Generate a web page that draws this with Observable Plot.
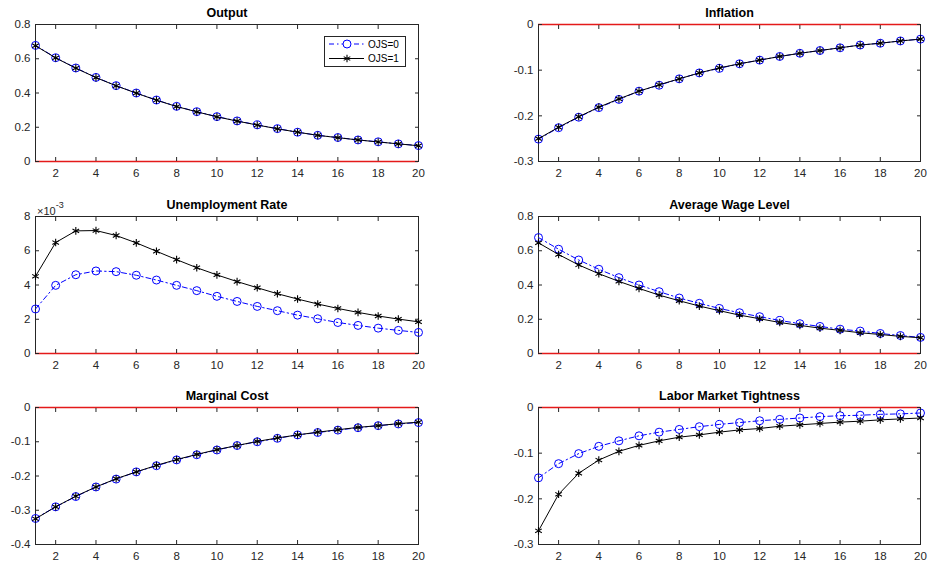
<!DOCTYPE html>
<html><head><meta charset="utf-8">
<script src="https://cdn.jsdelivr.net/npm/d3@7"></script>
<script src="https://cdn.jsdelivr.net/npm/@observablehq/plot@0.6"></script>
<style>
body{margin:0;background:#fff;}
#root{position:relative;width:930px;height:567px;overflow:hidden;background:#fff;font-family:"Liberation Sans",Arial,Helvetica,sans-serif;}
.panel{position:absolute;}
.panel svg{overflow:visible;}
#expo{position:absolute;left:37px;top:202px;font-size:11px;color:#262626;font-family:"Liberation Sans",Arial,sans-serif;}
#expo sup{font-size:9px;position:relative;top:-2px;}
#legend{position:absolute;left:324px;top:36px;}
</style></head><body><div id="root"><div id="expo">×10<sup>-3</sup></div></div>
<script>
// Horizon (periods)
const periods = [1,2,3,4,5,6,7,8,9,10,11,12,13,14,15,16,17,18,19,20];
const xTicks = [2,4,6,8,10,12,14,16,18,20];
const seriesNames = ["OJS=0", "OJS=1"];

// Output
const outputOJS0 = [0.678,0.606,0.546,0.491,0.443,0.400,0.359,0.322,0.291,0.262,0.237,0.214,0.192,0.171,0.153,0.140,0.126,0.115,0.103,0.093];
const outputOJS1 = [0.676,0.605,0.545,0.490,0.442,0.399,0.358,0.321,0.290,0.261,0.236,0.213,0.191,0.171,0.153,0.139,0.126,0.114,0.103,0.092];
const outputTicks = [0,0.2,0.4,0.6,0.8];

// Inflation
const inflationOJS0 = [-0.251,-0.226,-0.203,-0.182,-0.164,-0.146,-0.133,-0.119,-0.106,-0.096,-0.086,-0.078,-0.070,-0.063,-0.057,-0.051,-0.045,-0.041,-0.036,-0.032];
const inflationOJS1 = [-0.250,-0.225,-0.202,-0.181,-0.163,-0.146,-0.132,-0.119,-0.106,-0.095,-0.086,-0.078,-0.070,-0.063,-0.057,-0.051,-0.045,-0.041,-0.036,-0.032];
const inflationTicks = [-0.3,-0.2,-0.1,0];

// Unemployment rate (in units of 10^-3)
const unempOJS0 = [2.60,3.98,4.60,4.82,4.78,4.57,4.29,3.98,3.67,3.34,3.04,2.75,2.50,2.24,2.03,1.81,1.64,1.48,1.35,1.23];
const unempOJS1 = [4.51,6.48,7.16,7.18,6.89,6.46,5.97,5.48,5.01,4.59,4.20,3.84,3.49,3.18,2.89,2.63,2.40,2.19,2.01,1.85];
const unempTicks = [0,2,4,6,8];

// Average wage level
const wageOJS0 = [0.677,0.609,0.546,0.492,0.443,0.400,0.361,0.324,0.293,0.263,0.238,0.215,0.193,0.174,0.158,0.142,0.131,0.117,0.105,0.094];
const wageOJS1 = [0.646,0.578,0.517,0.466,0.421,0.380,0.341,0.308,0.277,0.250,0.224,0.203,0.181,0.164,0.148,0.135,0.121,0.111,0.100,0.092];
const wageTicks = [0,0.2,0.4,0.6,0.8];

// Marginal cost
const mcOJS0 = [-0.324,-0.290,-0.260,-0.232,-0.209,-0.188,-0.170,-0.153,-0.138,-0.124,-0.111,-0.100,-0.090,-0.080,-0.073,-0.066,-0.059,-0.053,-0.048,-0.044];
const mcOJS1 = [-0.325,-0.290,-0.259,-0.232,-0.208,-0.188,-0.169,-0.152,-0.137,-0.123,-0.111,-0.099,-0.089,-0.080,-0.072,-0.065,-0.058,-0.053,-0.047,-0.043];
const mcTicks = [-0.4,-0.3,-0.2,-0.1,0];

// Labor market tightness
const lmtOJS0 = [-0.154,-0.123,-0.101,-0.085,-0.073,-0.062,-0.054,-0.048,-0.042,-0.037,-0.033,-0.029,-0.026,-0.023,-0.020,-0.018,-0.017,-0.015,-0.014,-0.012];
const lmtOJS1 = [-0.270,-0.190,-0.144,-0.115,-0.096,-0.083,-0.073,-0.065,-0.060,-0.054,-0.049,-0.046,-0.041,-0.038,-0.035,-0.032,-0.030,-0.027,-0.025,-0.023];
const lmtTicks = [-0.3,-0.2,-0.1,0];

const panels = [
  {title:"Output", s0:outputOJS0, s1:outputOJS1, domain:[0,0.8], ticks:outputTicks, col:0, row:0},
  {title:"Inflation", s0:inflationOJS0, s1:inflationOJS1, domain:[-0.3,0], ticks:inflationTicks, col:1, row:0},
  {title:"Unemployment Rate", s0:unempOJS0, s1:unempOJS1, domain:[0,8], ticks:unempTicks, col:0, row:1},
  {title:"Average Wage Level", s0:wageOJS0, s1:wageOJS1, domain:[0,0.8], ticks:wageTicks, col:1, row:1},
  {title:"Marginal Cost", s0:mcOJS0, s1:mcOJS1, domain:[-0.4,0], ticks:mcTicks, col:0, row:2},
  {title:"Labor Market Tightness", s0:lmtOJS0, s1:lmtOJS1, domain:[-0.3,0], ticks:lmtTicks, col:1, row:2}
];

const AX = "#262626";
const fmt = d => String(+(+d).toFixed(3));
const rowTop = [0, 192, 383];
const rowHeight = [190, 190, 180];

const root = document.getElementById("root");

for (const p of panels) {
  const d0 = periods.map((t, i) => ({t, v: p.s0[i]}));
  const d1 = periods.map((t, i) => ({t, v: p.s1[i]}));
  const left = p.col === 0;
  const h = rowHeight[p.row];
  const chart = Plot.plot({
    width: 465,
    height: h,
    marginLeft: left ? 35 : 73,
    marginRight: left ? 47 : 10,
    marginTop: 24,
    marginBottom: h - 24 - 137,
    style: {fontFamily: '"Liberation Sans", Arial, sans-serif', fontSize: "11.5px", color: AX, background: "transparent", overflow: "visible"},
    x: {domain: [1, 20], label: null},
    y: {domain: p.domain, label: null},
    marks: [
      Plot.frame({stroke: AX, strokeWidth: 1}),
      Plot.ruleY([0], {stroke: "#e41a1a", strokeWidth: 1.3}),
      Plot.line(d0, {x: "t", y: "v", stroke: "#0000ff", strokeWidth: 1, strokeDasharray: "5,3,1.5,3"}),
      Plot.dot(d0, {x: "t", y: "v", r: 4, stroke: "#0000ff", fill: "none", strokeWidth: 1}),
      Plot.line(d1, {x: "t", y: "v", stroke: "#000", strokeWidth: 1}),
      Plot.dot(d1, {x: "t", y: "v", symbol: "asterisk", r: 3.6, stroke: "#000", strokeWidth: 1.1}),
      // tick labels
      Plot.axisX({ticks: xTicks, anchor: "bottom", tickSize: 0, tickPadding: 7, tickFormat: fmt, label: null, fontSize: 11.5}),
      Plot.axisY({ticks: p.ticks, anchor: "left", tickSize: 0, tickPadding: 5, tickFormat: fmt, label: null, fontSize: 11.5}),
      // inward ticks on all four sides
      Plot.axisX({ticks: xTicks, anchor: "bottom", tickSize: 4, dy: -4, tickFormat: () => "", label: null, stroke: AX}),
      Plot.axisX({ticks: xTicks, anchor: "top", tickSize: 4, dy: 4, tickFormat: () => "", label: null, stroke: AX}),
      Plot.axisY({ticks: p.ticks, anchor: "left", tickSize: 4, dx: 4, tickFormat: () => "", label: null, stroke: AX}),
      Plot.axisY({ticks: p.ticks, anchor: "right", tickSize: 4, dx: -4, tickFormat: () => "", label: null, stroke: AX}),
      // title
      Plot.text([p.title], {text: d => d, frameAnchor: "top", dy: -12, lineAnchor: "middle", fontWeight: "bold", fontSize: 12.5, fill: "#000"})
    ]
  });
  const div = document.createElement("div");
  div.className = "panel";
  div.style.left = (left ? 0 : 465) + "px";
  div.style.top = rowTop[p.row] + "px";
  div.appendChild(chart);
  root.appendChild(div);
}

// Legend (Output panel)
const lg = d3.create("svg").attr("id", "legend").attr("width", 83).attr("height", 32)
  .style("font-family", '"Liberation Sans", Arial, sans-serif');
lg.append("rect").attr("x", 0.5).attr("y", 0.5).attr("width", 81).attr("height", 30)
  .attr("fill", "#fff").attr("stroke", AX).attr("stroke-width", 1);
const rows = [{y: 8, color: "#0000ff", dash: "5,3,1.5,3", sym: "circle"}, {y: 22.5, color: "#000", dash: null, sym: "asterisk"}];
rows.forEach((r, i) => {
  lg.append("line").attr("x1", 5).attr("x2", 40).attr("y1", r.y).attr("y2", r.y)
    .attr("stroke", r.color).attr("stroke-width", 1).attr("stroke-dasharray", r.dash);
  if (r.sym === "circle") {
    lg.append("circle").attr("cx", 23).attr("cy", r.y).attr("r", 4).attr("fill", "#fff").attr("stroke", r.color);
  } else {
    lg.append("path").attr("transform", `translate(23,${r.y})`)
      .attr("d", d3.symbol(d3.symbolAsterisk, 40)()).attr("stroke", r.color).attr("stroke-width", 1.1).attr("fill", "none");
  }
  lg.append("text").attr("x", 44).attr("y", r.y).attr("dy", "0.35em").attr("font-size", 10).attr("fill", "#000").text(seriesNames[i]);
});
root.appendChild(lg.node());
</script>
</body></html>
